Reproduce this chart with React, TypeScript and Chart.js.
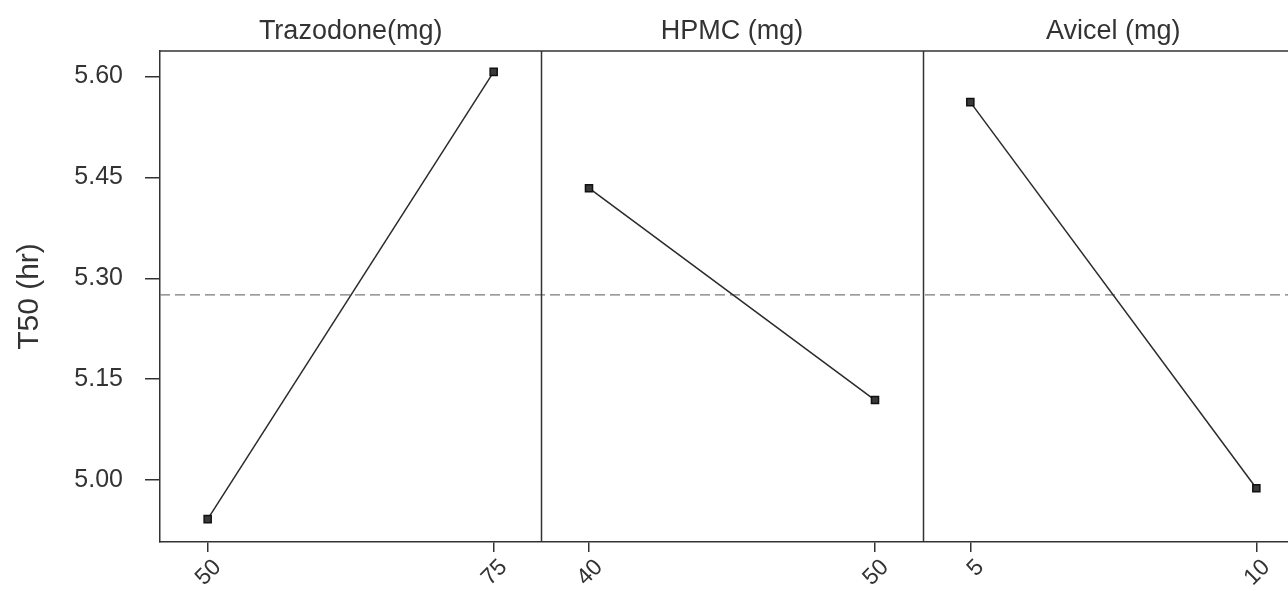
import React, { useEffect, useRef } from "react";
import { Chart, registerables } from "chart.js";

Chart.register(...registerables);

// ---- data ----
const panelTitles = ["Trazodone(mg)", "HPMC (mg)", "Avicel (mg)"];
const trazodoneLevels = ["50", "75"];
const trazodoneMeans = [4.942, 5.607];
const hpmcLevels = ["40", "50"];
const hpmcMeans = [5.434, 5.119];
const avicelLevels = ["5", "10"];
const avicelMeans = [5.562, 4.988];
const yTickValues = [5.0, 5.15, 5.3, 5.45, 5.6];
const yAxisTitle = "T50 (hr)";

const panelLevels = [trazodoneLevels, hpmcLevels, avicelLevels];
const panelMeans = [trazodoneMeans, hpmcMeans, avicelMeans];

// layout constants (not data)
const EDGE = 0.125; // fraction of panel width before first / after last level
const INK = "#333333";

export default function App() {
  const ref = useRef<HTMLCanvasElement | null>(null);

  useEffect(() => {
    if (!ref.current) return;
    Chart.defaults.font.family = "'Liberation Sans', Arial, Helvetica, sans-serif";

    const levelPos = (panel: number, idx: number, n: number) =>
      panel + EDGE + (n > 1 ? (idx * (1 - 2 * EDGE)) / (n - 1) : 0.5 - EDGE);

    const tickPositions: number[] = [];
    const tickLabels: string[] = [];
    panelLevels.forEach((lv, p) =>
      lv.forEach((l, i) => {
        tickPositions.push(levelPos(p, i, lv.length));
        tickLabels.push(l);
      })
    );

    const allMeans = panelMeans.flat();
    const grandMean = allMeans.reduce((a, b) => a + b, 0) / allMeans.length;

    const datasets: any[] = panelMeans.map((means, p) => ({
      label: panelTitles[p],
      data: means.map((m, i) => ({ x: levelPos(p, i, means.length), y: m })),
      borderColor: "#2a2a2a",
      borderWidth: 1.5,
      pointStyle: "rect",
      pointRadius: 5,
      pointBackgroundColor: "#3a3a3a",
      pointBorderColor: "#111111",
      pointBorderWidth: 1.5,
      tension: 0,
    }));
    datasets.push({
      label: "mean",
      data: [
        { x: 0, y: grandMean },
        { x: panelTitles.length, y: grandMean },
      ],
      borderColor: "#7a7a7a",
      borderWidth: 1.3,
      borderDash: [10, 5],
      pointRadius: 0,
    });

    const framePlugin = {
      id: "frame",
      afterDatasetsDraw(chart: any) {
        const { ctx, chartArea, scales } = chart;
        const xs = scales.x;
        ctx.save();
        ctx.strokeStyle = INK;
        ctx.lineWidth = 1.5;
        ctx.beginPath();
        ctx.moveTo(chartArea.left, chartArea.top);
        ctx.lineTo(chartArea.right, chartArea.top);
        ctx.lineTo(chartArea.right, chartArea.bottom);
        for (let p = 1; p < panelTitles.length; p++) {
          const px = Math.round(xs.getPixelForValue(p)) + 0.5;
          ctx.moveTo(px, chartArea.top);
          ctx.lineTo(px, chartArea.bottom);
        }
        ctx.stroke();
        ctx.fillStyle = INK;
        ctx.font = "27px 'Liberation Sans', Arial, sans-serif";
        ctx.textAlign = "center";
        ctx.textBaseline = "alphabetic";
        panelTitles.forEach((t, p) => {
          ctx.fillText(t, xs.getPixelForValue(p + 0.5), 39);
        });
        ctx.restore();
      },
    };

    const chart = new Chart(ref.current, {
      type: "line",
      data: { datasets },
      plugins: [framePlugin],
      options: {
        animation: false,
        responsive: false,
        maintainAspectRatio: false,
        layout: { padding: { top: 51, right: 26, left: 0, bottom: 0 } },
        plugins: {
          legend: { display: false },
          tooltip: { enabled: false },
        },
        scales: {
          x: {
            type: "linear",
            min: 0,
            max: panelTitles.length,
            afterBuildTicks: (s: any) => {
              s.ticks = tickPositions.map((v) => ({ value: v }));
            },
            afterFit: (s: any) => {
              s.height = 49;
            },
            ticks: {
              autoSkip: false,
              minRotation: 45,
              maxRotation: 45,
              padding: 2,
              labelOffset: 10,
              color: INK,
              font: { size: 23 },
              callback: (_v: any, i: number) => tickLabels[i],
            },
            grid: { drawOnChartArea: false, tickLength: 10, color: INK, lineWidth: 1.5 },
            border: { display: true, color: INK, width: 1.5 },
          },
          y: {
            type: "linear",
            min: 4.908,
            max: 5.638,
            afterBuildTicks: (s: any) => {
              s.ticks = yTickValues.map((v) => ({ value: v }));
            },
            afterFit: (s: any) => {
              s.width = 160;
            },
            ticks: {
              padding: 22,
              color: INK,
              font: { size: 25 },
              callback: (v: any) => Number(v).toFixed(2),
            },
            grid: { drawOnChartArea: false, tickLength: 15, color: INK, lineWidth: 1.5 },
            border: { display: true, color: INK, width: 1.5 },
            title: {
              display: true,
              text: yAxisTitle,
              color: INK,
              font: { size: 30 },
              padding: { top: 12, bottom: 0 },
            },
          },
        },
      },
    });
    return () => chart.destroy();
  }, []);

  return (
    <div
      style={{
        position: "absolute",
        left: 0,
        top: 0,
        width: 1288,
        height: 591,
        overflow: "hidden",
        background: "#ffffff",
      }}
    >
      <canvas ref={ref} width={1330} height={591} style={{ display: "block", width: 1330, height: 591 }} />
    </div>
  );
}
